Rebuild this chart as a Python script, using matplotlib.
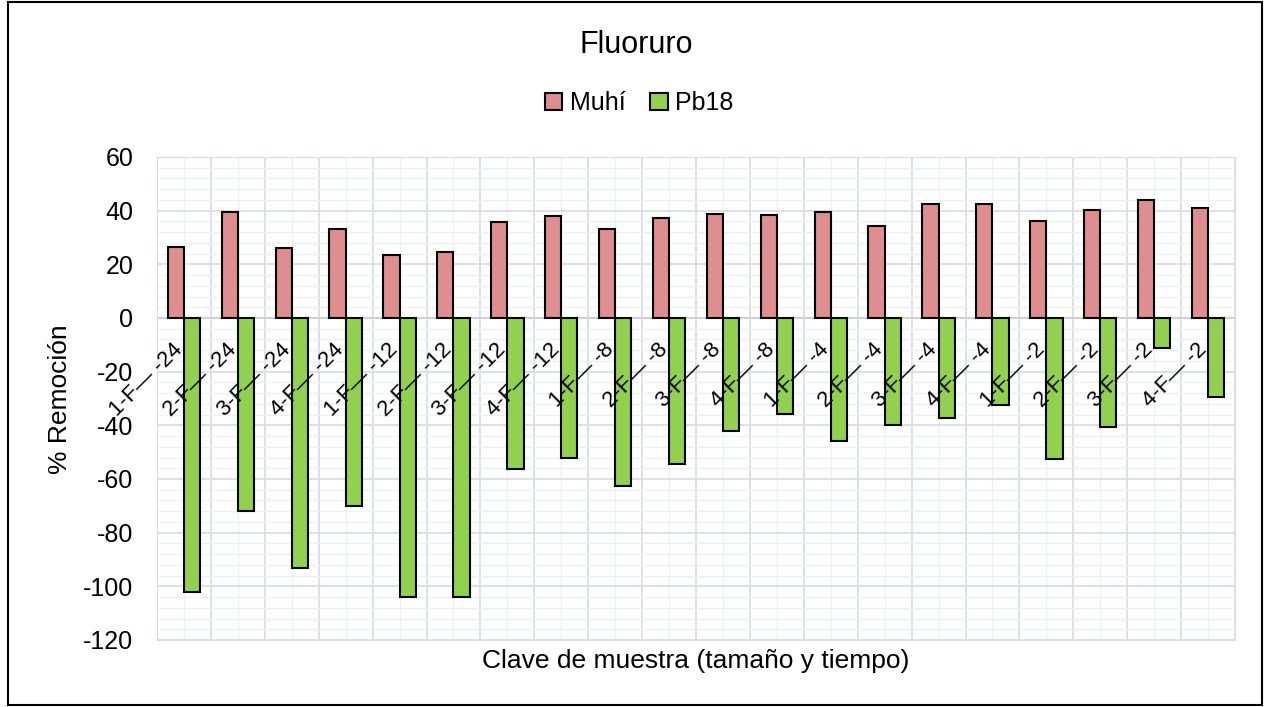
import matplotlib.pyplot as plt
from matplotlib.patches import Rectangle
import numpy as np

plt.rcParams['font.family'] = ['Liberation Sans', 'DejaVu Sans']
plt.rcParams['axes.unicode_minus'] = False

# datos
muestras = ['1-F— -24', '2-F— -24', '3-F— -24', '4-F— -24',
            '1-F— -12', '2-F— -12', '3-F— -12', '4-F— -12',
            '1-F— -8', '2-F— -8', '3-F— -8', '4-F— -8',
            '1-F— -4', '2-F— -4', '3-F— -4', '4-F— -4',
            '1-F— -2', '2-F— -2', '3-F— -2', '4-F— -2']
muhi = [26.6, 39.6, 26.2, 33.2, 23.5, 24.6, 35.8, 38.1, 33.3, 37.1,
        38.8, 38.4, 39.6, 34.3, 42.6, 42.6, 36.1, 40.4, 43.9, 41.0]
pb18 = [-102.1, -71.9, -93.3, -70.0, -104.1, -104.1, -56.3, -52.2, -62.5, -54.4,
        -42.0, -35.8, -46.0, -39.9, -37.3, -32.3, -52.6, -40.6, -11.0, -29.6]

fig = plt.figure(figsize=(12.64, 7.07), dpi=100)
ax = fig.add_axes([157 / 1264, 1 - 640 / 707, (1235 - 157) / 1264, (640 - 157) / 707])

x = np.arange(len(muestras))
w = 0.3
ax.bar(x - w / 2, muhi, w, color='#DE8E8E', edgecolor='black', linewidth=1.5, label='Muhí', zorder=3)
ax.bar(x + w / 2, pb18, w, color='#92D050', edgecolor='black', linewidth=1.5, label='Pb18', zorder=3)

ax.set_xlim(-0.5, len(muestras) - 0.5)
ax.set_ylim(-120, 60)
ax.set_yticks(np.arange(-120, 61, 20))
ax.set_yticks(np.arange(-120, 61, 4), minor=True)
ax.set_xticks(np.arange(-0.5, len(muestras), 1))
ax.set_xticks(x, minor=True)
ax.set_xticklabels([])
ax.tick_params(axis='both', which='both', length=0)
ax.tick_params(axis='y', labelsize=18, pad=17)
ax.grid(which='major', color='#D9DDE5', linewidth=1.3, zorder=0)
ax.grid(which='minor', color='#EEF0F4', linewidth=1.0, zorder=0)
ax.axhline(0, color='#D0D0D0', linewidth=1.3, zorder=2)
for s in ax.spines.values():
    s.set_color('#D9DDE5')

# etiquetas de categoria giradas
for i, lab in enumerate(muestras):
    ax.text(i + 0.05, -8, lab, rotation=45, ha='right', va='top', fontsize=16, zorder=4)

fig.text(60 / 1264, 1 - 399 / 707, '% Remoción', rotation=90, ha='center', va='center', fontsize=19)
fig.text(696 / 1264, 1 - 661 / 707, 'Clave de muestra (tamaño y tiempo)', ha='center', va='center', fontsize=19)

fig.text(636 / 1264, 1 - 45 / 707, 'Fluoruro', ha='center', va='center', fontsize=22)
fig.legend(loc='center', bbox_to_anchor=(639 / 1264, 1 - 103 / 707), ncol=2, frameon=False,
           fontsize=18, handlelength=0.7, handleheight=0.7, handletextpad=0.3, columnspacing=1.0)

fig.patches.append(Rectangle((8 / 1264, 2 / 707), 1254 / 1264, 703 / 707, transform=fig.transFigure,
                             fill=False, edgecolor='black', linewidth=1.5))

fig.savefig('out.png', dpi=100)
